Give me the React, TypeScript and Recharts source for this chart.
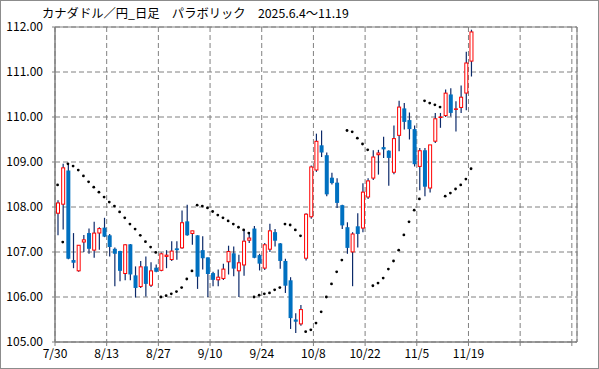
import { ComposedChart, Bar, Scatter, XAxis, YAxis, CartesianGrid, ReferenceArea } from 'recharts';

// CAD/JPY daily, 2025/7/30 - 11/19 (one entry per trading day)
const opens = [
  107.84, 108.04, 108.8, 106.81, 106.56, 107.2, 107.41, 107.02, 107.4, 107.53,
  107.36, 107.06, 107.01, 106.5, 107.16, 106.47, 106.21, 106.67, 106.24, 106.64,
  106.57, 106.88, 106.81, 107.07, 107.07, 107.67, 107.39, 107.36, 107.03, 106.87,
  106.52, 106.36, 106.39, 106.76, 106.96, 106.56, 106.69, 107.24, 107.51, 106.92,
  106.62, 107.04, 107.43, 107.18, 106.79, 106.36, 105.49, 105.38, 106.84, 107.76,
  108.8, 109.36, 109.14, 108.64, 108.53, 108.03, 107.54, 106.98, 107.56, 107.51,
  108.2, 108.62, 109.14, 109.32, 109.24, 108.75, 109.57, 110.18, 109.92, 109.72,
  108.88, 109.25, 108.4, 109.44, 109.97, 110.01, 110.49, 110.15, 110.19, 110.51,
  111.22,
];
const highs = [
  108.15, 108.96, 108.96, 107.42, 107.15, 107.38, 107.52, 107.67, 107.55, 107.76,
  107.4, 107.1, 107.03, 107.17, 107.18, 106.68, 106.8, 106.9, 106.77, 106.72,
  106.99, 107.04, 107.24, 107.24, 107.92, 108.05, 107.47, 107.37, 107.35, 106.88,
  106.56, 106.61, 106.74, 107.14, 107.12, 106.94, 107.51, 107.44, 107.58, 106.96,
  107.2, 107.63, 107.51, 107.2, 106.85, 106.44, 105.64, 105.82, 107.86, 108.92,
  109.63, 109.7, 109.21, 108.76, 108.64, 108.05, 107.66, 107.44, 107.86, 108.53,
  108.64, 109.26, 109.27, 109.56, 109.26, 109.81, 110.36, 110.31, 110.1, 109.81,
  109.31, 109.31, 109.38, 110.09, 110.09, 110.61, 110.64, 110.35, 110.7, 111.45,
  111.94,
];
const lows = [
  107.37, 107.5, 106.84, 106.64, 106.56, 107.0, 106.96, 106.87, 107.05, 107.33,
  106.9, 106.24, 106.35, 106.37, 106.37, 105.99, 106.2, 106.01, 106.22, 106.55,
  106.57, 106.64, 106.8, 106.83, 107.07, 107.36, 107.16, 106.18, 106.61, 106.0,
  106.24, 106.24, 106.38, 106.5, 106.46, 106.0, 106.47, 107.2, 106.86, 106.59,
  106.6, 107.0, 107.12, 106.63, 106.09, 105.29, 105.2, 105.36, 106.81, 107.74,
  108.78, 109.11, 108.24, 108.5, 107.98, 107.51, 106.96, 106.24, 107.1, 107.44,
  108.18, 108.6, 108.72, 109.09, 108.47, 108.73, 109.24, 109.72, 109.5, 108.9,
  108.37, 108.24, 108.32, 109.42, 109.76, 110.0, 110.01, 109.68, 110.09, 110.15,
  110.9,
];
const closes = [
  108.09, 108.87, 106.84, 106.75, 107.15, 107.27, 107.06, 107.42, 107.52, 107.33,
  107.1, 106.95, 106.57, 107.16, 106.49, 106.19, 106.67, 106.28, 106.58, 106.55,
  106.96, 106.93, 107.02, 107.03, 107.65, 107.36, 107.47, 106.44, 106.85, 106.5,
  106.37, 106.44, 106.62, 107.01, 106.62, 106.76, 107.24, 107.31, 106.86, 106.73,
  107.16, 107.47, 107.24, 106.79, 106.24, 105.52, 105.44, 105.72, 107.84, 108.89,
  109.46, 109.2, 108.27, 108.52, 108.08, 107.58, 107.08, 107.4, 107.39, 108.33,
  108.58, 109.11, 109.2, 109.27, 109.08, 109.52, 110.22, 109.88, 109.72, 108.94,
  109.25, 108.44, 109.38, 109.96, 110.0, 110.53, 110.08, 110.18, 110.44, 111.2,
  111.89,
];
// parabolic SAR
const sar = [
  108.49, 107.22, 108.96, 108.91, 108.82, 108.69, 108.56, 108.44, 108.33, 108.22,
  108.11, 108.02, 107.89, 107.76, 107.62, 107.51, 107.37, 107.23, 107.11, 106.99,
  106.0, 106.03, 106.07, 106.12, 106.21, 106.4, 106.58, 108.04, 108.02, 107.98,
  107.9, 107.82, 107.76, 107.69, 107.62, 107.55, 107.49, 107.42, 106.0, 106.04,
  106.07, 106.09, 106.16, 106.21, 107.62, 107.6, 107.49, 107.36, 105.23, 105.27,
  105.42, 105.67, 106.0, 106.29, 106.56, 106.82, 109.7, 109.67, 109.53, 109.4,
  109.27, 106.25, 106.31, 106.42, 106.62, 106.8, 107.04, 107.38, 107.67, 107.93,
  108.18, 110.36, 110.31, 110.27, 110.22, 108.24, 108.31, 108.4, 108.49, 108.62,
  108.85,
];
// one label every 10 trading days
const tickLabels = ['7/30', '8/13', '8/27', '9/10', '9/24', '10/8', '10/22', '11/5', '11/19'];
const priceTicks = [105, 106, 107, 108, 109, 110, 111, 112];

const data = opens.map((open, i) => ({
  x: i + 0.5,
  open,
  high: highs[i],
  low: lows[i],
  close: closes[i],
  sar: sar[i],
}));

const UP = '#ff0000';
const DOWN = '#0070c0';
const WICK = '#0c2a6a';
const GRID = '#808080';
const FONT = '"Noto Sans CJK JP", "Noto Sans", sans-serif';

const Candle = (props: any) => {
  const { x, y, width, height, payload } = props;
  const { open, close, high, low } = payload;
  const ratio = height / (high - low);
  const cx = x + width / 2;
  const yOpen = y + (high - open) * ratio;
  const yClose = y + (high - close) * ratio;
  const top = Math.min(yOpen, yClose);
  const h = Math.max(Math.abs(yOpen - yClose), 1);
  const up = close >= open;
  return (
    <g>
      <line x1={cx} x2={cx} y1={y} y2={y + height} stroke={WICK} strokeWidth={1.2} />
      {up ? (
        <rect x={x + 0.5} y={top} width={width - 1} height={Math.max(h - 1, 0.5)} fill="#fff" stroke={UP} strokeWidth={1} />
      ) : (
        <rect x={x} y={top - 0.5} width={width} height={h} fill={DOWN} />
      )}
    </g>
  );
};

const SarDot = (props: any) => <circle cx={props.cx} cy={props.cy} r={1.4} fill="#000" />;

export default function App() {
  return (
    <div style={{ position: 'relative', width: 599, height: 369, boxShadow: 'inset 0 0 0 1px #8c8c8c', background: '#fff' }}>
      <style>{'body{margin:0}'}</style>
      <div
        style={{
          position: 'absolute',
          left: 42,
          top: 6,
          fontFamily: FONT,
          fontSize: 12.3,
          lineHeight: '14px',
          color: '#000',
          whiteSpace: 'pre',
        }}
      >
        カナダドル／円_日足　パラボリック　2025.6.4～11.19
      </div>
      <ComposedChart width={599} height={369} data={data} margin={{ top: 27, right: 22, bottom: 0, left: 0 }}>
        <CartesianGrid stroke={GRID} strokeDasharray="5 3" />
        <ReferenceArea x1={0} x2={101} y1={105} y2={112} fill="none" stroke={GRID} strokeOpacity={1} fillOpacity={0} ifOverflow="visible" />
        <XAxis
          type="number"
          dataKey="x"
          domain={[0, 101]}
          ticks={[0, 10, 20, 30, 40, 50, 60, 70, 80, 90, 100]}
          tickFormatter={(v: number) => tickLabels[v / 10] ?? ''}
          interval={0}
          height={27}
          stroke={GRID}
          tickSize={4}
          tickMargin={3}
          tick={{ fill: '#000', fontSize: 12, fontFamily: FONT }}
          allowDataOverflow
        />
        <YAxis
          domain={[105, 112]}
          ticks={priceTicks}
          tickFormatter={(v: number) => v.toFixed(2)}
          interval={0}
          width={55}
          stroke={GRID}
          tickSize={3}
          tickMargin={9}
          tick={{ fill: '#000', fontSize: 12, fontFamily: FONT }}
          allowDataOverflow
        />
        <Bar dataKey={(d: any) => [d.low, d.high]} barSize={4} shape={Candle} isAnimationActive={false} />
        <Scatter dataKey="sar" shape={SarDot} isAnimationActive={false} />
      </ComposedChart>
    </div>
  );
}
